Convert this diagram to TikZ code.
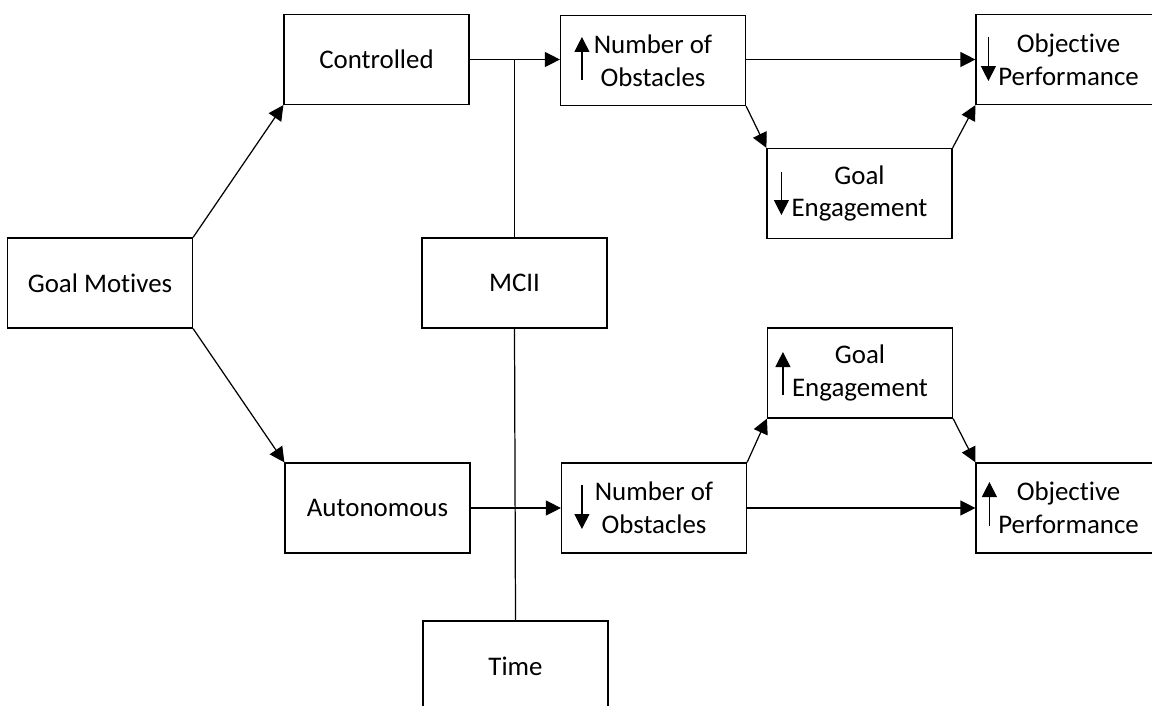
\documentclass[tikz,border=0pt]{standalone}
\usepackage{fontspec}
\setmainfont{Carlito}[Ligatures = NoCommon]
\usepackage{tikz}
\usetikzlibrary{arrows.meta, calc}

\begin{document}
\begin{tikzpicture}[x = 0.02cm, y = -0.02cm,
	boxnode/.style = {draw, line width = 0.7pt, minimum width = 3.7cm, minimum height = 1.8cm, inner sep = 0pt, align = center, font = \fontsize{15.3}{18.6}\selectfont},
	link/.style = {line width = 0.7pt, -{Triangle[length = 0.3cm, width = 0.3cm]}}]
		\useasboundingbox (0,0) rectangle (1152,706);
		\clip (0,0) rectangle (1152,706);
		\node (gm) at (100,283) [boxnode] {Goal Motives};
		\node (ctrl) at (376.5,59.5) [boxnode] {Controlled};
		\node (auto) at (377.5,508) [boxnode] {Autonomous};
		\node (mcii) at (514.5,283) [boxnode] {MCII};
		\node (time) at (515.5,666) [boxnode] {Time};
		\node (nobsU) at (653,60.5) [boxnode] {Number of\\Obstacles};
		\node (nobsL) at (654,508) [boxnode] {Number of\\Obstacles};
		\node (geU) at (859.5,193.5) [boxnode] {Goal\\Engagement};
		\node (geL) at (860,373) [boxnode] {Goal\\Engagement};
		\node (opU) at (1068.5,59.5) [boxnode] {Objective\\Performance};
		\node (opL) at (1068.5,508) [boxnode] {Objective\\Performance};
		% moderators
		\draw [line width = 0.7pt] (mcii.north) -- (mcii.north |- ctrl.east);
		\draw [line width = 0.7pt] (mcii.south) -- (time.north);
		% paths
		\draw [link] (gm.north east) -- (ctrl.south west);
		\draw [link] (gm.south east) -- (auto.north west);
		\draw [link] (ctrl.east) -- (ctrl.east -| nobsU.west);
		\draw [link] (auto.east) -- (nobsL.west);
		\draw [link] (ctrl.east -| nobsU.east) -- (ctrl.east -| opU.west);
		\draw [link] (nobsU.south east) -- (geU.north west);
		\draw [link] (geU.north east) -- (opU.south west);
		\draw [link] (nobsL.north east) -- (geL.south west);
		\draw [link] (geL.south east) -- (opL.north west);
		\draw [link] (nobsL.east) -- (opL.west);
		% up and down signs
		\draw [link] ($(nobsU.west)+(22,19.5)$) -- ($(nobsU.west)+(22,-23.5)$);
		\draw [link] ($(nobsL.west)+(21,-23)$) -- ($(nobsL.west)+(21,21)$);
		\draw [link] ($(geU.west)+(15,-21.5)$) -- ($(geU.west)+(15,21.5)$);
		\draw [link] ($(geL.west)+(16,22)$) -- ($(geL.west)+(16,-21)$);
		\draw [link] ($(opU.west)+(13,-22.5)$) -- ($(opU.west)+(13,21.5)$);
		\draw [link] ($(opL.west)+(14,18)$) -- ($(opL.west)+(14,-26)$);
\end{tikzpicture}
\end{document}
